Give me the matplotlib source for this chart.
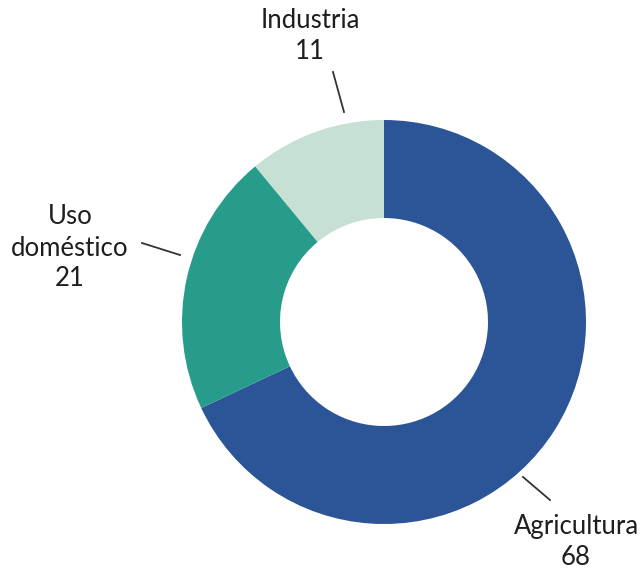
import matplotlib
matplotlib.use("Agg")
import matplotlib.pyplot as plt

plt.rcParams["font.family"] = ["Lato", "DejaVu Sans"]

# uso del agua por sector (%)
sectores = ["Agricultura", "Uso doméstico", "Industria"]
valores = [68, 21, 11]
colores = ["#2b5597", "#289c8a", "#c6e0d3"]

# etiquetas: texto, posición del texto y tramo de la guía (en píxeles, y hacia arriba)
etiquetas = {
    "Agricultura": ("Agricultura\n68", (576, 30), ((523, 95), (550, 72))),
    "Uso doméstico": ("Uso\ndoméstico\n21", (70, 324), ((142, 329), (180, 317))),
    "Industria": ("Industria\n11", (310, 536), ((333, 500), (344, 460))),
}

W, H = 642, 572
fig = plt.figure(figsize=(W / 100, H / 100), dpi=100)
ax = fig.add_axes([0, 0, 1, 1])

ax.pie(valores, colors=colores, startangle=90, counterclock=False,
       center=(384, 250), radius=202,
       wedgeprops=dict(width=98, edgecolor="none"))

# pie() fija sus propios límites; se restablecen después
ax.set_xlim(0, W)
ax.set_ylim(0, H)
ax.set_aspect("equal")
ax.axis("off")

for nombre, v in zip(sectores, valores):
    texto, (tx, ty), (p0, p1) = etiquetas[nombre]
    ax.plot([p0[0], p1[0]], [p0[1], p1[1]], color="#333333", lw=1.3)
    ax.text(tx, ty, texto, ha="center", va="center", fontsize=18.5,
            color="#1e1e1e", linespacing=1.3)

fig.savefig("out.png", dpi=100, facecolor="white")
